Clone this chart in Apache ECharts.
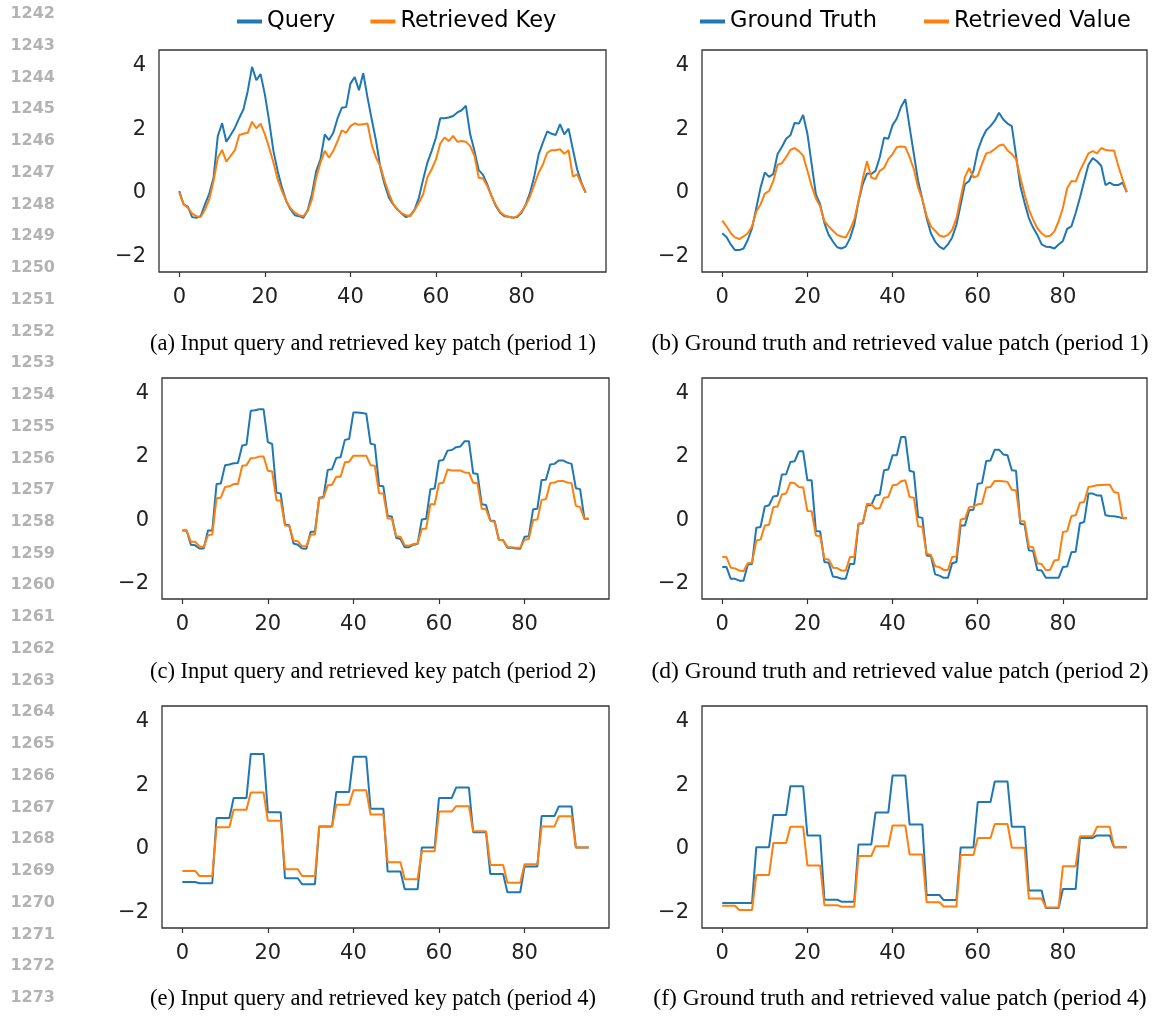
<!DOCTYPE html>
<html>
<head>
<meta charset="utf-8">
<script src="https://cdn.jsdelivr.net/npm/echarts@6/dist/echarts.min.js"></script>
<style>
  html, body { margin: 0; padding: 0; background: #fff; }
  #main { width: 1158px; height: 1016px; }
</style>
</head>
<body>
<div id="main"></div>
<script>
// time steps of each patch
var steps = [];
for (var i = 0; i < 96; i++) steps.push(i);

var xTicks = [0, 20, 40, 60, 80];
var yTicks = [-2, 0, 2, 4];

// period 1
var queryP1 = [0.05,-0.37,-0.44,-0.77,-0.79,-0.74,-0.37,-0.03,0.47,1.79,2.19,1.61,1.82,2.05,2.35,2.63,3.21,3.97,3.55,3.74,
  3.1,2.26,1.32,0.68,0.16,-0.26,-0.53,-0.71,-0.74,-0.79,-0.55,-0.05,0.68,1.05,1.84,1.66,1.89,2.35,2.68,2.7,
  3.44,3.65,3.23,3.77,3.0,2.3,1.63,0.79,0.26,-0.16,-0.37,-0.53,-0.66,-0.77,-0.71,-0.53,-0.16,0.42,0.95,1.32,
  1.74,2.35,2.35,2.37,2.42,2.53,2.6,2.74,1.84,1.32,0.71,0.56,0.26,-0.11,-0.42,-0.63,-0.74,-0.76,-0.79,-0.77,
  -0.63,-0.37,0,0.53,1.21,1.58,1.93,1.86,1.82,2.16,1.84,2.02,1.37,0.74,0.32,0];
var keyP1 = [0,-0.37,-0.47,-0.66,-0.74,-0.77,-0.53,-0.21,0.37,1.1,1.35,0.98,1.16,1.34,1.82,1.86,1.89,2.24,2.03,2.18,
  1.84,1.42,0.95,0.42,0.05,-0.26,-0.49,-0.63,-0.71,-0.74,-0.58,-0.21,0.47,0.95,1.32,1.1,1.32,1.63,1.97,1.89,
  2.1,2.19,2.14,2.16,2.18,1.5,1.1,0.84,0.37,-0.03,-0.35,-0.53,-0.65,-0.71,-0.74,-0.55,-0.32,-0.05,0.49,0.74,
  1.05,1.55,1.74,1.63,1.79,1.61,1.63,1.61,1.47,1.16,0.47,0.45,0.21,-0.11,-0.39,-0.61,-0.71,-0.76,-0.79,-0.74,
  -0.6,-0.39,-0.11,0.26,0.63,0.89,1.26,1.34,1.34,1.37,1.23,1.34,0.51,0.58,0.28,0];
var truthP1 = [-1.28,-1.4,-1.63,-1.81,-1.81,-1.76,-1.49,-1.12,-0.48,0.16,0.64,0.5,0.59,1.22,1.44,1.7,1.81,2.2,2.18,2.45,
  1.86,0.9,-0.05,-0.37,-0.96,-1.33,-1.54,-1.72,-1.76,-1.7,-1.44,-1.01,-0.27,0.27,0.61,0.59,0.69,1.12,1.73,1.7,
  2.13,2.34,2.71,2.95,2.07,1.22,0.37,-0.21,-0.8,-1.28,-1.54,-1.7,-1.78,-1.63,-1.41,-1.01,-0.37,0.27,0.37,0.69,
  1.33,1.7,1.97,2.1,2.27,2.52,2.31,2.18,2.1,1.17,0.21,-0.32,-0.8,-1.1,-1.33,-1.63,-1.7,-1.71,-1.76,-1.63,
  -1.52,-1.14,-1.06,-0.64,-0.16,0.37,0.88,1.09,0.99,0.85,0.24,0.32,0.24,0.24,0.32,0.02];
var valueP1 = [-0.88,-1.06,-1.28,-1.41,-1.46,-1.38,-1.28,-1.06,-0.59,-0.37,-0.03,0.05,0.37,0.88,0.93,1.12,1.35,1.41,1.31,1.17,
  0.69,0.21,-0.18,-0.43,-0.9,-1.06,-1.2,-1.33,-1.38,-1.41,-1.17,-0.85,-0.27,0.43,0.99,0.48,0.43,0.69,0.78,1.06,
  1.22,1.44,1.46,1.44,1.12,0.74,0.16,-0.21,-0.74,-1.06,-1.2,-1.35,-1.39,-1.33,-1.17,-0.8,-0.16,0.5,0.78,0.48,
  0.53,0.9,1.24,1.28,1.38,1.49,1.52,1.33,1.22,1.06,0.48,-0.05,-0.53,-0.85,-1.12,-1.28,-1.38,-1.36,-1.22,-0.9,
  -0.48,0.14,0.37,0.35,0.69,0.96,1.24,1.31,1.24,1.41,1.35,1.33,1.33,0.85,0.43,0.02];

// period 2
var queryP2 = [-0.33,-0.33,-0.78,-0.8,-0.9,-0.9,-0.33,-0.33,1.14,1.16,1.74,1.76,1.8,1.81,2.36,2.39,3.46,3.48,3.51,3.51,
  2.47,2.41,0.87,0.84,-0.14,-0.16,-0.74,-0.78,-0.9,-0.91,-0.37,-0.37,0.71,0.73,1.59,1.61,1.97,1.99,2.54,2.57,
  3.41,3.41,3.39,3.37,2.42,2.39,1.09,1.07,0.13,0.11,-0.56,-0.6,-0.86,-0.86,-0.78,-0.76,0.02,0.04,0.98,1.0,
  1.88,1.9,2.2,2.22,2.31,2.33,2.5,2.5,1.48,1.46,0.5,0.48,-0.01,-0.03,-0.62,-0.64,-0.88,-0.88,-0.9,-0.91,
  -0.53,-0.51,0.34,0.36,1.27,1.28,1.76,1.78,1.89,1.89,1.82,1.78,1.01,0.98,0.04,0.04];
var keyP2 = [-0.33,-0.33,-0.69,-0.69,-0.83,-0.86,-0.48,-0.46,0.69,0.71,1.05,1.07,1.14,1.14,1.72,1.74,1.96,1.97,2.01,2.01,
  1.56,1.54,0.63,0.61,-0.17,-0.19,-0.65,-0.67,-0.83,-0.83,-0.46,-0.46,0.69,0.71,1.1,1.12,1.37,1.37,1.83,1.85,
  2.04,2.04,2.04,2.04,1.74,1.72,0.85,0.84,0.05,0.04,-0.51,-0.53,-0.8,-0.81,-0.76,-0.74,-0.28,-0.27,0.5,0.5,
  1.16,1.18,1.6,1.57,1.57,1.57,1.51,1.5,1.18,1.17,0.36,0.34,-0.03,-0.05,-0.62,-0.64,-0.85,-0.86,-0.88,-0.88,
  -0.62,-0.6,0,0.02,0.64,0.66,1.17,1.19,1.24,1.24,1.19,1.17,0.45,0.41,0.04,0.04];
var truthP2 = [-1.49,-1.49,-1.86,-1.86,-1.92,-1.92,-1.41,-1.39,-0.24,-0.22,0.43,0.47,0.75,0.77,1.44,1.45,1.84,1.86,2.18,2.18,
  1.26,1.26,-0.35,-0.36,-1.33,-1.35,-1.79,-1.81,-1.86,-1.86,-1.39,-1.39,-0.12,-0.1,0.47,0.47,0.78,0.8,1.58,1.6,
  2.05,2.05,2.63,2.63,1.56,1.52,0.1,0.07,-1.12,-1.14,-1.72,-1.76,-1.83,-1.83,-1.37,-1.33,-0.17,-0.17,0.31,0.33,
  1.15,1.17,1.87,1.89,2.23,2.23,2.08,2.05,1.58,1.56,-0.12,-0.14,-0.96,-0.98,-1.58,-1.6,-1.83,-1.83,-1.83,-1.83,
  -1.49,-1.47,-1.02,-1.0,-0.1,-0.06,0.84,0.84,0.78,0.78,0.15,0.13,0.12,0.1,0.06,0.06];
var valueP2 = [-1.17,-1.17,-1.51,-1.53,-1.6,-1.62,-1.37,-1.35,-0.65,-0.62,-0.17,-0.15,0.41,0.43,0.81,0.84,1.19,1.17,1.05,1.03,
  0.29,0.28,-0.49,-0.51,-1.23,-1.25,-1.51,-1.52,-1.6,-1.6,-1.17,-1.17,-0.12,-0.1,0.52,0.5,0.36,0.38,0.71,0.73,
  1.1,1.12,1.23,1.26,0.73,0.71,-0.2,-0.22,-1.07,-1.1,-1.46,-1.49,-1.58,-1.58,-1.17,-1.15,0.02,0.04,0.41,0.43,
  0.5,0.52,1.03,1.05,1.24,1.24,1.23,1.21,0.96,0.94,-0.03,-0.04,-0.84,-0.86,-1.37,-1.39,-1.58,-1.58,-1.28,-1.26,
  -0.38,-0.35,0.13,0.15,0.55,0.57,1.05,1.07,1.1,1.11,1.12,1.12,0.89,0.86,0.07,0.06];

// period 4
var queryP4 = [-1.05,-1.05,-1.05,-1.05,-1.09,-1.09,-1.09,-1.09,0.97,0.97,0.97,0.97,1.6,1.6,1.6,1.6,2.99,2.99,2.99,2.99,
  1.15,1.15,1.15,1.15,-0.93,-0.93,-0.93,-0.93,-1.12,-1.12,-1.12,-1.12,0.7,0.7,0.7,0.7,1.79,1.79,1.79,1.79,
  2.9,2.9,2.9,2.9,1.26,1.26,1.26,1.26,-0.72,-0.72,-0.72,-0.72,-1.28,-1.28,-1.28,-1.28,0.04,0.04,0.04,0.04,
  1.6,1.6,1.6,1.6,1.93,1.93,1.93,1.93,0.52,0.52,0.52,0.52,-0.8,-0.8,-0.8,-0.8,-1.37,-1.37,-1.37,-1.37,
  -0.56,-0.56,-0.56,-0.56,1.03,1.03,1.03,1.03,1.33,1.33,1.33,1.33,0.04,0.04,0.04,0.04];
var keyP4 = [-0.7,-0.7,-0.7,-0.7,-0.86,-0.86,-0.86,-0.86,0.68,0.68,0.68,0.68,1.23,1.23,1.23,1.23,1.77,1.77,1.77,1.77,
  0.88,0.88,0.88,0.88,-0.65,-0.65,-0.65,-0.65,-0.86,-0.86,-0.86,-0.86,0.7,0.7,0.7,0.7,1.39,1.39,1.39,1.39,
  1.84,1.84,1.84,1.84,1.08,1.08,1.08,1.08,-0.43,-0.43,-0.43,-0.43,-0.96,-0.96,-0.96,-0.96,-0.08,-0.08,-0.08,-0.08,
  1.17,1.17,1.17,1.17,1.34,1.34,1.34,1.34,0.55,0.55,0.55,0.55,-0.51,-0.51,-0.51,-0.51,-1.07,-1.07,-1.07,-1.07,
  -0.49,-0.49,-0.49,-0.49,0.7,0.7,0.7,0.7,1.02,1.02,1.02,1.02,0.04,0.04,0.04,0.04];
var truthP4 = [-1.71,-1.71,-1.71,-1.71,-1.71,-1.71,-1.71,-1.71,0.05,0.05,0.05,0.05,1.06,1.06,1.06,1.06,1.97,1.97,1.97,1.97,
  0.42,0.42,0.42,0.42,-1.61,-1.61,-1.61,-1.61,-1.67,-1.67,-1.67,-1.67,0.13,0.13,0.13,0.13,1.14,1.14,1.14,1.14,
  2.31,2.31,2.31,2.31,0.76,0.76,0.76,0.76,-1.46,-1.46,-1.46,-1.46,-1.62,-1.62,-1.62,-1.62,0.04,0.04,0.04,0.04,
  1.47,1.47,1.47,1.47,2.12,2.12,2.12,2.12,0.69,0.69,0.69,0.69,-1.32,-1.32,-1.32,-1.32,-1.87,-1.87,-1.87,-1.87,
  -1.27,-1.27,-1.27,-1.27,0.34,0.34,0.34,0.34,0.42,0.42,0.42,0.42,0.05,0.05,0.05,0.05];
var valueP4 = [-1.8,-1.8,-1.8,-1.8,-1.93,-1.93,-1.93,-1.93,-0.83,-0.83,-0.83,-0.83,0.18,0.18,0.18,0.18,0.69,0.69,0.69,0.69,
  -0.53,-0.53,-0.53,-0.53,-1.78,-1.78,-1.78,-1.78,-1.83,-1.83,-1.83,-1.83,-0.23,-0.23,-0.23,-0.23,0.08,0.08,0.08,0.08,
  0.73,0.73,0.73,0.73,-0.18,-0.18,-0.18,-0.18,-1.69,-1.69,-1.69,-1.69,-1.82,-1.82,-1.82,-1.82,-0.2,-0.2,-0.2,-0.2,
  0.34,0.34,0.34,0.34,0.78,0.78,0.78,0.78,0.03,0.03,0.03,0.03,-1.57,-1.57,-1.57,-1.57,-1.85,-1.85,-1.85,-1.85,
  -0.55,-0.55,-0.55,-0.55,0.39,0.39,0.39,0.39,0.69,0.69,0.69,0.69,0.05,0.05,0.05,0.05];

var captions = [
  '(a) Input query and retrieved key patch (period 1)',
  '(b) Ground truth and retrieved value patch (period 1)',
  '(c) Input query and retrieved key patch (period 2)',
  '(d) Ground truth and retrieved value patch (period 2)',
  '(e) Input query and retrieved key patch (period 4)',
  '(f) Ground truth and retrieved value patch (period 4)'
];

var BLUE = '#1f77b4', ORANGE = '#ff7f0e';
var tickFont = 'DejaVu Sans';

var panels = [
  { box: [159, 50, 447, 222], lines: [['Query', queryP1], ['Retrieved Key', keyP1]] },
  { box: [702, 50, 445, 222], lines: [['Ground Truth', truthP1], ['Retrieved Value', valueP1]] },
  { box: [162, 378, 447, 221], lines: [['Query', queryP2], ['Retrieved Key', keyP2]] },
  { box: [702, 378, 445, 221], lines: [['Ground Truth', truthP2], ['Retrieved Value', valueP2]] },
  { box: [162, 706, 447, 222], lines: [['Query', queryP4], ['Retrieved Key', keyP4]] },
  { box: [702, 706, 445, 222], lines: [['Ground Truth', truthP4], ['Retrieved Value', valueP4]] }
];
var captionPos = [[373, 344], [900, 344], [373, 672], [900, 672], [373, 999], [900, 999]];

function minus(v) { return v < 0 ? '\u2212' + Math.abs(v) : String(v); }

var grids = [], xAxes = [], yAxes = [], series = [], graphics = [];

panels.forEach(function (p, k) {
  grids.push({ left: p.box[0], top: p.box[1], width: p.box[2], height: p.box[3],
    show: true, borderColor: '#333', borderWidth: 1.3, containLabel: false });
  xAxes.push({
    type: 'value', gridIndex: k, min: -4.75, max: 99.75,
    axisLine: { show: false, onZero: false },
    axisTick: { show: true, length: 5, customValues: xTicks, lineStyle: { color: '#333', width: 1.2 } },
    axisLabel: { customValues: xTicks, margin: 15, fontSize: 21, color: '#222', fontFamily: tickFont },
    splitLine: { show: false }
  });
  yAxes.push({
    type: 'value', gridIndex: k, min: -2.5, max: 4.5,
    axisLine: { show: false, onZero: false },
    axisTick: { show: false },
    axisLabel: { customValues: yTicks, margin: 13, fontSize: 21, color: '#222', fontFamily: tickFont, formatter: minus },
    splitLine: { show: false }
  });
  p.lines.forEach(function (ln, j) {
    series.push({
      name: ln[0], type: 'line', xAxisIndex: k, yAxisIndex: k,
      data: steps.map(function (t) { return [t, ln[1][t]]; }),
      showSymbol: false, symbol: 'none',
      color: j === 0 ? BLUE : ORANGE,
      lineStyle: { width: 2, color: j === 0 ? BLUE : ORANGE },
      z: 2 + j
    });
  });
  graphics.push({
    type: 'text', x: captionPos[k][0], y: captionPos[k][1],
    style: { text: captions[k], fill: '#000', font: (k % 2 ? '23.5px' : '22.5px') + ' "Liberation Serif"',
      textAlign: 'center', textVerticalAlign: 'middle' }
  });
});

// line numbers in the margin
for (var n = 0; n < 32; n++) {
  graphics.push({
    type: 'text', x: 55, y: 14 + n * 31.74,
    style: { text: String(1242 + n), fill: '#b3b3b3', font: 'bold 16px "DejaVu Sans"', textAlign: 'right', textVerticalAlign: 'middle' }
  });
}

var myChart = echarts.init(document.getElementById('main'), null, { renderer: 'canvas' });
myChart.setOption({
  animation: false,
  backgroundColor: '#fff',
  legend: [
    { data: ['Query', 'Retrieved Key'], left: 237, top: 10, padding: 0, itemGap: 35,
      icon: 'rect', itemWidth: 25, itemHeight: 4,
      textStyle: { fontSize: 22.5, color: '#000', fontFamily: tickFont } },
    { data: ['Ground Truth', 'Retrieved Value'], left: 700, top: 10, padding: 0, itemGap: 47,
      icon: 'rect', itemWidth: 25, itemHeight: 4,
      textStyle: { fontSize: 22.5, color: '#000', fontFamily: tickFont } }
  ],
  grid: grids,
  xAxis: xAxes,
  yAxis: yAxes,
  series: series,
  graphic: graphics
});
</script>
</body>
</html>
